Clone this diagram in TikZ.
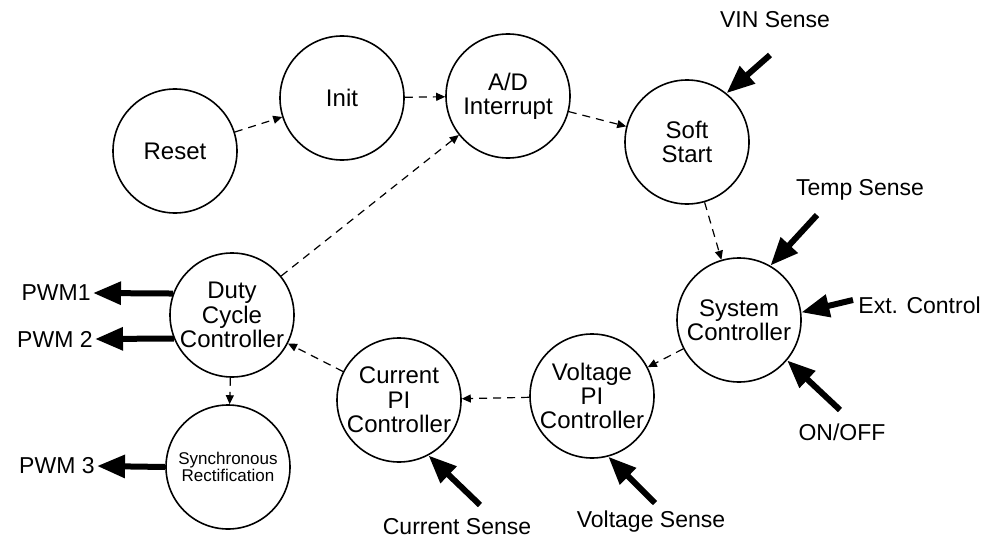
\documentclass[tikz,border=0pt]{standalone}
\usepackage{fontspec}
\setmainfont{Liberation Sans}
\usetikzlibrary{arrows.meta}
\tikzset{
  stnode/.style={draw, circle, line width=0.8pt, minimum size=62pt,
    inner sep=0pt, align=center, font=\fontsize{12}{12.2}\selectfont},
  smallstnode/.style={stnode, font=\fontsize{8.5}{8.5}\selectfont},
  flow/.style={-{Triangle[length=4.5pt,width=4pt]}, dash pattern=on 4pt off 3pt,
    line width=0.6pt},
  signal/.style={-{Triangle[length=14pt,width=11pt]}, line width=3pt},
  tag/.style={inner sep=1pt, font=\fontsize{11.5}{12}\selectfont}
}
\begin{document}
\begin{tikzpicture}[x=0.5pt,y=-0.5pt]
  \useasboundingbox (0,0) rectangle (989,540);

  % states
  \node[stnode] (reset)   at (175,151) {Reset};
  \node[stnode] (init)    at (342,98)  {Init};
  \node[stnode] (adint)   at (508,96)  {A/D\\Interrupt};
  \node[stnode] (soft)    at (687,142) {Soft\\Start};
  \node[stnode] (sysctrl) at (739,320) {System\\Controller};
  \node[stnode] (vpi)     at (592,396) {Voltage\\PI\\Controller};
  \node[stnode] (cpi)     at (399,400) {Current\\PI\\Controller};
  \node[stnode] (duty)    at (232,315) {Duty\\Cycle\\Controller};
  \node[smallstnode] (sync) at (228,467) {Synchronous\\Rectification};

  % flow between states
  \draw[flow] (reset) -- (init);
  \draw[flow] (init) -- (adint);
  \draw[flow] (adint) -- (soft);
  \draw[flow] (soft) -- (sysctrl);
  \draw[flow] (sysctrl) -- (vpi);
  \draw[flow] (vpi) -- (cpi);
  \draw[flow] (cpi) -- (duty);
  \draw[flow] (duty) -- (adint);
  \draw[flow] (duty) -- (sync);

  % inputs
  \node[tag] (vinlbl)  at (775,20)  {VIN Sense};
  \node[tag] (templbl) at (860,190) {Temp Sense};
  \node[tag, anchor=west] (extlbl) at (856,305) {Ext. Control};
  \node[tag] (onofflbl) at (842,432) {ON/OFF};
  \node[tag] (curlbl)  at (457,527) {Current Sense};
  \node[tag] (voltlbl) at (651,522) {Voltage Sense};

  \coordinate (vin)   at (770,55);
  \coordinate (temp)  at (817,215);
  \coordinate (ext)   at (853,300);
  \coordinate (onoff) at (840,410);
  \coordinate (cur)   at (480,505);
  \coordinate (volt)  at (655,503);

  \draw[signal] (vin) -- (soft.51);
  \draw[signal] (temp) -- (sysctrl.60);
  \draw[signal] (ext) -- (sysctrl.7);
  \draw[signal] (onoff) -- (sysctrl.-40);
  \draw[signal] (cur) -- (cpi.-62);
  \draw[signal] (volt) -- (vpi.-75);

  % outputs
  \node[tag, anchor=east] (pwma) at (93,293) {PWM1};
  \node[tag, anchor=east] (pwmb) at (95,339) {PWM 2};
  \node[tag, anchor=east] (pwmc) at (97,466) {PWM 3};

  \draw[signal] (duty.160) -- (pwma.east);
  \draw[signal] (duty.202) -- (pwmb.east);
  \draw[signal] (sync.west) -- (pwmc.east);
\end{tikzpicture}
\end{document}
